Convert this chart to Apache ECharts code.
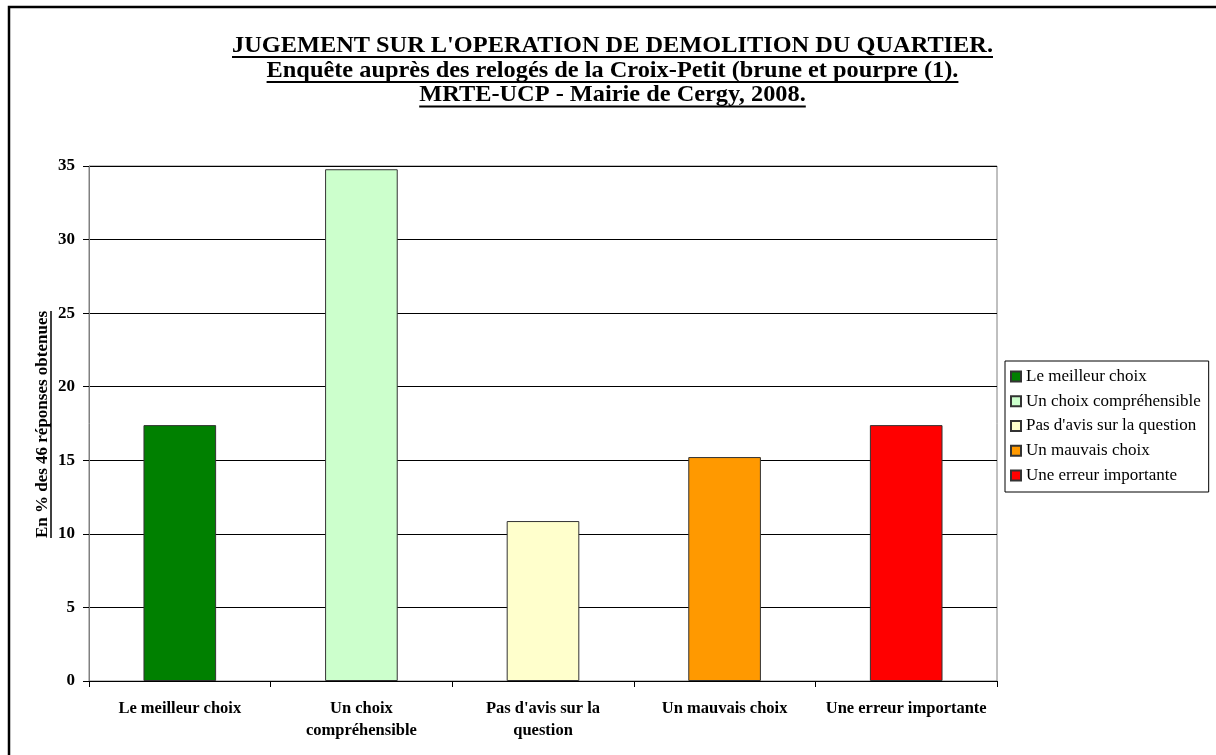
<!DOCTYPE html>
<html>
<head>
<meta charset="utf-8">
<script src="https://cdn.jsdelivr.net/npm/echarts@6/dist/echarts.min.js"></script>
<style>
  html, body { margin: 0; padding: 0; background: #ffffff; }
  #chart { width: 1216px; height: 755px; }
</style>
</head>
<body>
<div id="chart"></div>
<script>
// Survey answers (46 respondents), expressed as a percentage
const categories = [
  'Le meilleur choix',
  'Un choix compréhensible',
  "Pas d'avis sur la question",
  'Un mauvais choix',
  'Une erreur importante'
];
const axisLabels = [
  'Le meilleur choix',
  'Un choix\ncompréhensible',
  "Pas d'avis sur la\nquestion",
  'Un mauvais choix',
  'Une erreur importante'
];
const percentages = [17.39, 34.78, 10.87, 15.22, 17.39];
const barColors = ['#008000', '#CCFFCC', '#FFFFCC', '#FF9900', '#FF0000'];
const yMin = 0, yMax = 35, yStep = 5;

const titleLines = [
  "JUGEMENT SUR L'OPERATION DE DEMOLITION DU QUARTIER.",
  'Enquête auprès des relogés de la Croix-Petit (brune et pourpre (1).',
  'MRTE-UCP - Mairie de Cergy, 2008.'
];
const yAxisTitle = 'En % des 46 réponses obtenues';

const SERIF = "'Liberation Serif', 'Times New Roman', serif";

function textWidth(text, font) {
  const ctx = document.createElement('canvas').getContext('2d');
  ctx.font = font;
  return ctx.measureText(text).width;
}

// Title: bold and underlined, three centred lines
const titleSize = 23;
const titleFont = 'bold ' + titleSize + 'px ' + SERIF;
const titleScaleX = 761 / textWidth(titleLines[0], titleFont);
const titleCenterX = 612.5;
const titleMidY = [46.5, 71, 95.5];
const titleUnderY = [57, 82, 106.5];

const graphics = [];
// frame edges
graphics.push({
  type: 'polyline', silent: true,
  shape: { points: [[9, 760], [9, 7], [1220, 7]] },
  style: { stroke: '#000', lineWidth: 2.5, fill: null }
});
titleLines.forEach((line, i) => {
  const w = textWidth(line, titleFont) * titleScaleX;
  graphics.push({
    type: 'text', x: titleCenterX, y: titleMidY[i], scaleX: titleScaleX,
    style: { text: line, font: titleFont, fill: '#000', align: 'center', verticalAlign: 'middle' }
  });
  graphics.push({
    type: 'line', silent: true,
    shape: { x1: titleCenterX - w / 2, y1: titleUnderY[i], x2: titleCenterX + w / 2, y2: titleUnderY[i] },
    style: { stroke: '#000', lineWidth: 2 }
  });
});

// Rotated y-axis title with underline
const yTitleFont = 'bold 17px ' + SERIF;
const yTitleW = textWidth(yAxisTitle, yTitleFont);
graphics.push({
  type: 'group', x: 43, y: 424.5, rotation: Math.PI / 2,
  children: [
    { type: 'text', x: 0, y: 0,
      style: { text: yAxisTitle, font: yTitleFont, fill: '#000', align: 'center', verticalAlign: 'middle' } },
    { type: 'line', silent: true,
      shape: { x1: -yTitleW / 2, y1: 8, x2: yTitleW / 2, y2: 8 },
      style: { stroke: '#000', lineWidth: 1.5 } }
  ]
});

// One series per answer so each gets its own legend entry; bars overlap on their own category
const series = categories.map((name, i) => ({
  name: name,
  type: 'bar',
  barWidth: '40%',
  barGap: '-100%',
  data: percentages.map((v, j) => (j === i ? v : '-')),
  itemStyle: { color: barColors[i], borderColor: '#333', borderWidth: 1 },
  emphasis: { disabled: true }
}));

const chart = echarts.init(document.getElementById('chart'), null, { renderer: 'canvas' });
chart.setOption({
  animation: false,
  backgroundColor: '#ffffff',
  textStyle: { fontFamily: SERIF },
  grid: {
    left: 89, right: 219, top: 166, bottom: 74,
    show: true, borderColor: '#808080', borderWidth: 1, backgroundColor: 'transparent'
  },
  legend: {
    orient: 'vertical',
    left: 1005, top: 361,
    padding: [7, 8, 8, 5],
    itemGap: 7.75,
    itemWidth: 10, itemHeight: 10,
    icon: 'rect',
    borderColor: '#000', borderWidth: 1,
    textStyle: { fontFamily: SERIF, fontSize: 17, lineHeight: 17, color: '#000' },
    data: categories
  },
  xAxis: {
    type: 'category',
    data: axisLabels,
    axisLine: { show: true, lineStyle: { color: '#000', width: 1 } },
    axisTick: { show: true, length: 6, lineStyle: { color: '#000' } },
    axisLabel: {
      interval: 0, margin: 17, color: '#000',
      fontFamily: SERIF, fontWeight: 'bold', fontSize: 16.5, lineHeight: 22
    },
    splitLine: { show: false }
  },
  yAxis: {
    type: 'value',
    min: yMin, max: yMax, interval: yStep,
    axisLine: { show: true, lineStyle: { color: '#808080', width: 1 } },
    axisTick: { show: true, length: 6, lineStyle: { color: '#000' } },
    axisLabel: { margin: 14, color: '#000', fontFamily: SERIF, fontWeight: 'bold', fontSize: 17 },
    splitLine: { show: true, lineStyle: { color: '#000', width: 1 } }
  },
  graphic: graphics,
  series: series
});
</script>
</body>
</html>
